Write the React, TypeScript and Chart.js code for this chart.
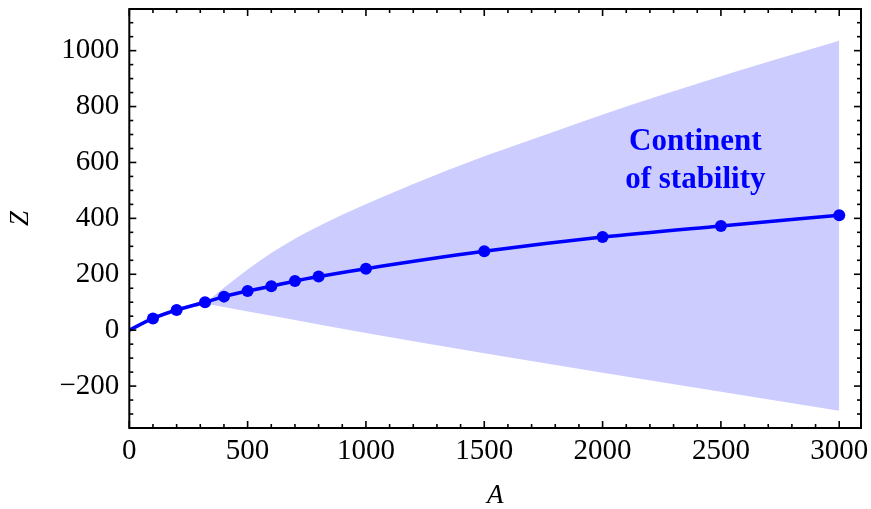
import React, { useEffect, useRef } from "react";
import { Chart, registerables } from "chart.js";

Chart.register(...registerables);

// Data points (A, Z) with markers
const pointA = [100, 200, 320, 400, 500, 600, 700, 800, 1000, 1500, 2000, 2500, 3000];
const pointZ = [42, 72, 100, 120, 140, 157, 176, 192, 220, 282, 333, 373, 411];
// The curve starts at the origin
const originA = 0;
const originZ = 0;

// Continent of stability: upper and lower boundaries
const upperA = [320, 400, 500, 600, 750, 900, 1050, 1200, 1500, 1800, 2100, 2400, 2700, 3000];
const upperZ = [97, 152, 217, 276, 350, 413, 469, 523, 622, 712, 800, 882, 960, 1035];
const lowerA = [320, 1000, 2000, 3000];
const lowerZ = [95, -10, -152, -288];

// Axes
const xTickValues = [0, 500, 1000, 1500, 2000, 2500, 3000];
const yTickValues = [-200, 0, 200, 400, 600, 800, 1000];
const xMin = 0;
const xMax = 3092;
const yMin = -350;
const yMax = 1149;
const xMinorStep = 100;
const yMinorStep = 50;

// Annotation
const labelLines = ["Continent", "of stability"];
const labelA = 2392;
const labelZ = 645;

const SERIF = "'Liberation Serif', 'Times New Roman', Times, serif";
const BLUE = "rgb(0,0,255)";
const FILL = "rgb(204,204,255)";

const fmt = (v: number) => (v < 0 ? "\u2212" + Math.abs(v) : String(v));

const framePlugin = {
  id: "frameTicks",
  afterDatasetsDraw(chart: any) {
    const { ctx, chartArea: a, scales } = chart;
    const xs = scales.x;
    const ys = scales.y;
    ctx.save();
    ctx.strokeStyle = "#000";
    ctx.lineWidth = 1.6;
    const seg = (x1: number, y1: number, x2: number, y2: number) => {
      ctx.beginPath();
      ctx.moveTo(x1, y1);
      ctx.lineTo(x2, y2);
      ctx.stroke();
    };
    for (let v = xMin; v <= xMax; v += xMinorStep) {
      const L = xTickValues.includes(v) ? 7 : 4;
      const px = xs.getPixelForValue(v);
      seg(px, a.bottom, px, a.bottom - L);
      seg(px, a.top, px, a.top + L);
    }
    for (let v = yMin; v <= yMax; v += yMinorStep) {
      const L = yTickValues.includes(v) ? 7 : 4;
      const py = ys.getPixelForValue(v);
      seg(a.left, py, a.left + L, py);
      seg(a.right, py, a.right - L, py);
    }
    ctx.lineWidth = 2;
    ctx.strokeRect(a.left, a.top, a.right - a.left, a.bottom - a.top);

    ctx.fillStyle = BLUE;
    ctx.font = `bold 31px ${SERIF}`;
    ctx.textAlign = "center";
    ctx.textBaseline = "alphabetic";
    const tx = xs.getPixelForValue(labelA);
    const ty = ys.getPixelForValue(labelZ);
    labelLines.forEach((s, i) => ctx.fillText(s, tx, ty + i * 38));
    ctx.restore();
  },
};

export default function App() {
  const ref = useRef<HTMLCanvasElement | null>(null);

  useEffect(() => {
    if (!ref.current) return;
    const curve = [{ x: originA, y: originZ }, ...pointA.map((a, i) => ({ x: a, y: pointZ[i] }))];
    const points = pointA.map((a, i) => ({ x: a, y: pointZ[i] }));
    const upper = upperA.map((a, i) => ({ x: a, y: upperZ[i] }));
    const lower = lowerA.map((a, i) => ({ x: a, y: lowerZ[i] }));

    const chart = new Chart(ref.current, {
      type: "scatter",
      data: {
        datasets: [
          {
            data: points,
            showLine: false,
            pointRadius: 6,
            pointBackgroundColor: BLUE,
            pointBorderWidth: 0,
            pointBorderColor: BLUE,
          },
          {
            data: curve,
            showLine: true,
            borderColor: BLUE,
            borderWidth: 3.5,
            pointRadius: 0,
            cubicInterpolationMode: "monotone",
            fill: false,
          },
          {
            data: upper,
            showLine: true,
            borderColor: "rgba(0,0,0,0)",
            borderWidth: 0,
            pointRadius: 0,
            cubicInterpolationMode: "monotone",
            backgroundColor: FILL,
            fill: "+1",
          },
          {
            data: lower,
            showLine: true,
            borderColor: "rgba(0,0,0,0)",
            borderWidth: 0,
            pointRadius: 0,
            cubicInterpolationMode: "monotone",
            fill: false,
          },
        ],
      },
      options: {
        animation: false,
        responsive: false,
        events: [],
        layout: { padding: { left: 0, top: 9, right: 10, bottom: 0 } },
        plugins: { legend: { display: false }, tooltip: { enabled: false } },
        scales: {
          x: {
            type: "linear",
            min: xMin,
            max: xMax,
            afterBuildTicks: (s: any) => {
              s.ticks = xTickValues.map((v) => ({ value: v }));
            },
            afterFit: (s: any) => {
              s.height = 81;
              s.paddingLeft = 0;
              s.paddingRight = 0;
            },
            grid: { display: false, drawTicks: false },
            border: { display: false },
            ticks: {
              font: { family: SERIF, size: 29 },
              color: "#000",
              padding: 6,
              maxRotation: 0,
              autoSkip: false,
              callback: (v: any) => fmt(Number(v)),
            },
            title: {
              display: true,
              text: "A",
              color: "#000",
              font: { family: SERIF, size: 27, style: "italic", lineHeight: 1 },
              padding: 0,
            },
          },
          y: {
            type: "linear",
            min: yMin,
            max: yMax,
            afterBuildTicks: (s: any) => {
              s.ticks = yTickValues.map((v) => ({ value: v }));
            },
            afterFit: (s: any) => {
              s.width = 129.3;
              s.paddingTop = 0;
              s.paddingBottom = 0;
            },
            grid: { display: false, drawTicks: false },
            border: { display: false },
            ticks: {
              font: { family: SERIF, size: 29 },
              color: "#000",
              padding: 10,
              autoSkip: false,
              callback: (v: any) => fmt(Number(v)),
            },
            title: {
              display: true,
              text: "Z",
              color: "#000",
              font: { family: SERIF, size: 27, style: "italic", lineHeight: 1 },
              padding: { top: 7.5, bottom: 0 },
            },
          },
        },
      },
      plugins: [framePlugin],
    } as any);
    return () => chart.destroy();
  }, []);

  return (
    <div style={{ position: "absolute", left: 0, top: 0, width: 871, height: 509, background: "#fff" }}>
      <canvas ref={ref} width={871} height={509} style={{ width: 871, height: 509, display: "block" }} />
    </div>
  );
}
